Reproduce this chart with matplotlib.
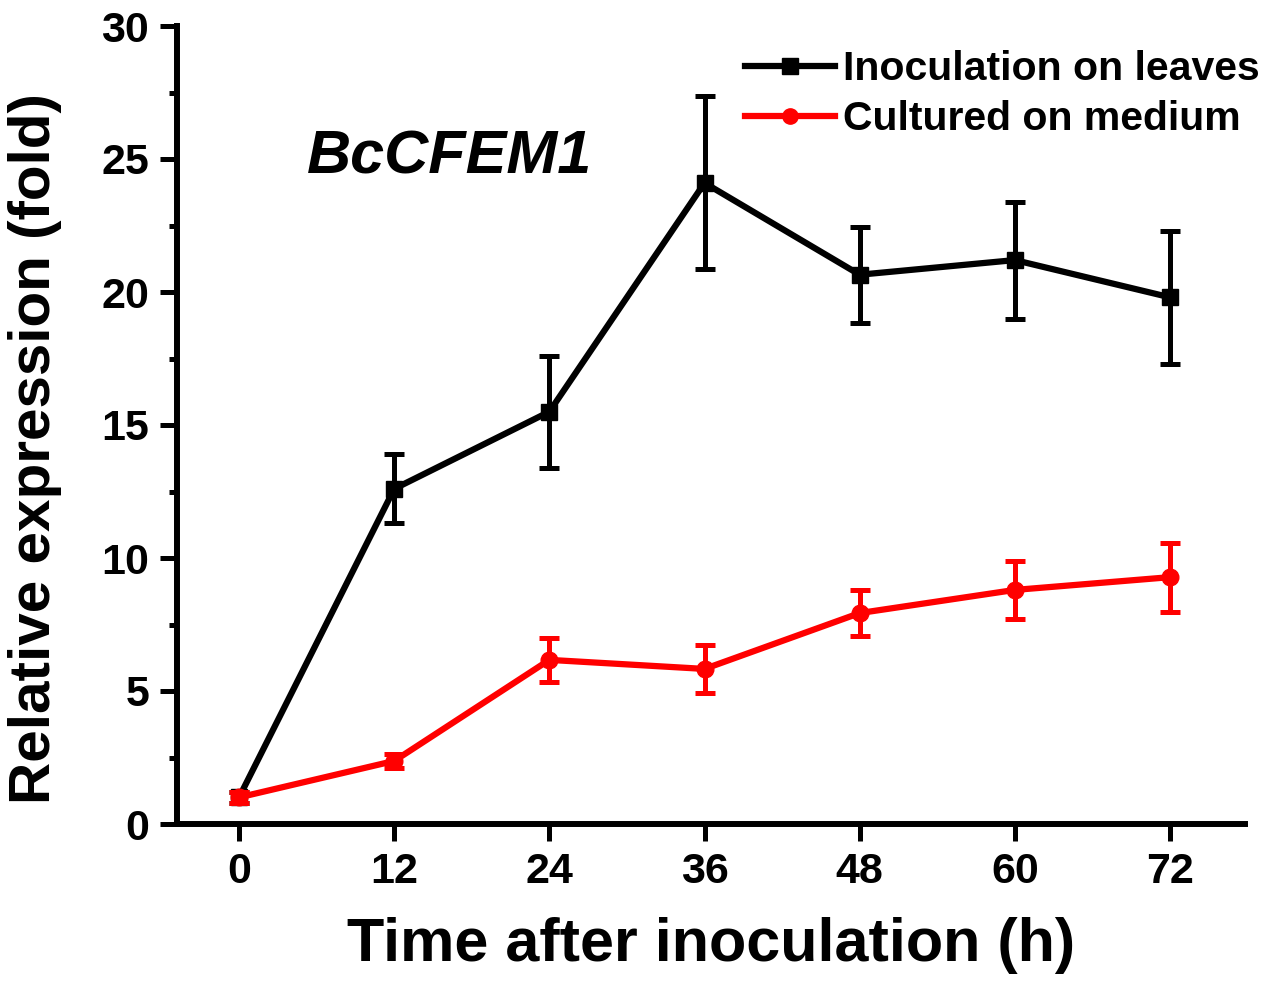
import matplotlib
matplotlib.use("Agg")
import matplotlib.pyplot as plt
from matplotlib.ticker import MultipleLocator
from matplotlib.lines import Line2D

plt.rcParams['font.family'] = ['Liberation Sans', 'DejaVu Sans']
plt.rcParams['font.weight'] = 'bold'

time_h = [0, 12, 24, 36, 48, 60, 72]
leaves_mean = [1.0, 12.6, 15.5, 24.1, 20.65, 21.2, 19.8]
leaves_err = [0.2, 1.3, 2.1, 3.25, 1.8, 2.2, 2.5]
medium_mean = [1.0, 2.37, 6.17, 5.83, 7.93, 8.8, 9.28]
medium_err = [0.2, 0.25, 0.83, 0.9, 0.87, 1.1, 1.3]
x_ticks = [0, 12, 24, 36, 48, 60, 72]
y_ticks = [0, 5, 10, 15, 20, 25, 30]
series_labels = ["Inoculation on leaves", "Cultured on medium"]

fig = plt.figure(figsize=(12.67, 9.99), dpi=100)
ax = fig.add_axes([177/1267, 1 - 824/999, (1245-177)/1267, (824-26)/999])

eb_kw = dict(lw=4.5, ms=12, elinewidth=3.6, capsize=7, capthick=3.6)
e1 = ax.errorbar(time_h, leaves_mean, yerr=leaves_err, color='black',
                 marker='s', zorder=3, **eb_kw)
e2 = ax.errorbar(time_h, medium_mean, yerr=medium_err, color='#ff0000',
                 marker='o', zorder=4, **eb_kw)
for e in (e1, e2):
    for c in e[1]:
        c.set_solid_capstyle('round')
    for b in e[2]:
        b.set_capstyle('butt')

ax.set_xlim(-4.8, 77.8)
ax.set_ylim(0, 30)
ax.set_xticks(x_ticks)
ax.set_yticks(y_ticks)
ax.yaxis.set_minor_locator(MultipleLocator(2.5))
ax.tick_params(axis='both', which='major', direction='out', length=12, width=3.6,
               labelsize=31, pad=8)
ax.tick_params(axis='y', which='minor', direction='out', length=6, width=3.6)
for lab in ax.get_xticklabels() + ax.get_yticklabels():
    lab.set_fontweight('bold')

for s in ['top', 'right']:
    ax.spines[s].set_visible(False)
for s in ['left', 'bottom']:
    ax.spines[s].set_linewidth(4.3)

ax.set_xlabel("Time after inoculation (h)", fontsize=44, fontweight='bold', labelpad=18)
ax.set_ylabel("Relative expression (fold)", fontsize=42, fontweight='bold')
ax.yaxis.set_label_coords(-0.108, 0.47)

ax.text(0.122, 0.835, "BcCFEM1", transform=ax.transAxes, fontsize=44,
        fontweight='bold', fontstyle='italic', ha='left', va='center')

handles = [Line2D([], [], color='black', lw=4.5, marker='s', ms=11),
           Line2D([], [], color='#ff0000', lw=4.5, marker='o', ms=11)]
leg = fig.legend(handles, series_labels, loc='upper right',
                 bbox_to_anchor=(1260/1267, 1 - 50/999), frameon=False,
                 prop={'size': 29.5, 'weight': 'bold'}, handlelength=2.2,
                 handletextpad=0.2, labelspacing=0.3, borderaxespad=0,
                 borderpad=0)

fig.savefig("out.png", dpi=100)
